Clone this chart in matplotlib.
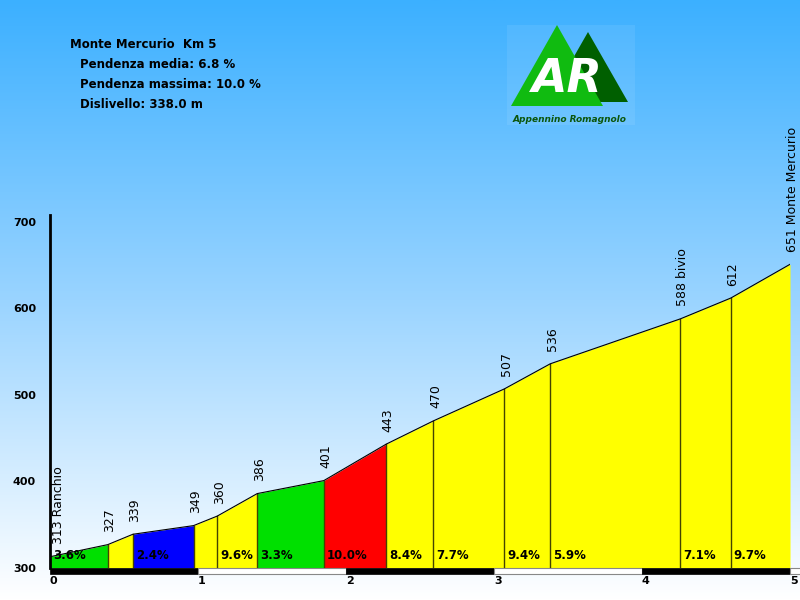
import numpy as np
import matplotlib
matplotlib.use("Agg")
import matplotlib.pyplot as plt
from matplotlib.colors import LinearSegmentedColormap
from matplotlib.patches import Polygon, Rectangle

# profile data
km = [0, 0.39, 0.56, 0.97, 1.13, 1.40, 1.85, 2.27, 2.59, 3.07, 3.38, 4.26, 4.60, 5.0]
elev = [313, 327, 339, 349, 360, 386, 401, 443, 470, 507, 536, 588, 612, 651]
names = ["Ranchio", "", "", "", "", "", "", "", "", "", "", "bivio", "", "Monte Mercurio"]
grades = ["3.6%", "", "2.4%", "", "9.6%", "3.3%", "10.0%", "8.4%", "7.7%", "9.4%", "5.9%", "7.1%", "9.7%"]
segcolors = ["#00e000", "#ffff00", "#0000ff", "#ffff00", "#ffff00", "#00e000", "#ff0000",
             "#ffff00", "#ffff00", "#ffff00", "#ffff00", "#ffff00", "#ffff00"]
yticks = [300, 400, 500, 600, 700]
xticks = [0, 1, 2, 3, 4, 5]
info = ["Monte Mercurio  Km 5", "Pendenza media: 6.8 %", "Pendenza massima: 10.0 %", "Dislivello: 338.0 m"]

fig = plt.figure(figsize=(8, 6), dpi=100)

# background + logo in pixel coords
bg = fig.add_axes([0, 0, 1, 1])
bg.set_xlim(0, 800)
bg.set_ylim(600, 0)
bg.axis("off")
cmap = LinearSegmentedColormap.from_list("sky", ["#3cb0ff", "#9ad4ff", "#ffffff"])
grad = np.linspace(0, 1, 256).reshape(-1, 1)
bg.imshow(grad, cmap=cmap, extent=[0, 800, 600, 0], aspect="auto")

bg.add_patch(Rectangle((507, 25), 128, 100, color="white", alpha=0.08, lw=0))
bg.add_patch(Polygon([(588, 32), (548, 102), (628, 102)], closed=True, color="#005f00", lw=0))
bg.add_patch(Polygon([(557, 25), (511, 106), (603, 106)], closed=True, color="#10bb10", lw=0))
bg.text(567, 79, "AR", color="white", fontsize=33, fontweight="bold", fontstyle="italic",
        ha="center", va="center")
bg.text(570, 119, "Appennino Romagnolo", color="#0b560b", fontsize=6.5, fontweight="bold",
        fontstyle="italic", ha="center", va="center")

bg.text(70, 45, info[0], fontsize=8.5, fontweight="bold", va="center")
for i, line in enumerate(info[1:]):
    bg.text(80, 65 + 20 * i, line, fontsize=8.5, fontweight="bold", va="center")

# main profile axes
ax = fig.add_axes([50 / 800, 32 / 600, 740 / 800, 398 / 600])
ax.patch.set_alpha(0)
ax.set_xlim(0, 5)
ax.set_ylim(300, 760)

for i in range(len(km) - 1):
    ax.fill_between([km[i], km[i + 1]], [elev[i], elev[i + 1]], 300, color=segcolors[i], lw=0)
    if grades[i]:
        ax.text(km[i] + 0.02, 315, grades[i], fontsize=8.5, fontweight="bold", va="center", ha="left")
for i in range(1, len(km) - 1):
    ax.plot([km[i], km[i]], [300, elev[i]], color="#444400", lw=1)
ax.plot(km, elev, color="black", lw=0.8)

for i in range(len(km)):
    lbl = str(elev[i]) + (" " + names[i] if names[i] else "")
    dx = 6 if i == 0 else 1.5
    ax.annotate(lbl, (km[i], elev[i]), xytext=(dx, 9), textcoords="offset points",
                rotation=90, ha="center", va="bottom", fontsize=9, annotation_clip=False)

# km band under the axis
for k in range(5):
    if k % 2 == 0:
        ax.add_patch(Rectangle((k, 293), 1, 7, facecolor="black", edgecolor="black", lw=0.5, clip_on=False))
    else:
        ax.add_patch(Rectangle((k, 293.5), 1, 6, facecolor="white", edgecolor="#888888", lw=0.8, clip_on=False))
ax.add_patch(Rectangle((5, 293.5), 0.1, 6, facecolor="white", edgecolor="#888888", lw=0.8, clip_on=False))
for k in xticks:
    ax.text(k, 291, str(k), fontsize=8, fontweight="bold", ha="left", va="top")

ax.set_xticks([])
ax.set_yticks(yticks)
ax.set_yticklabels([str(v) for v in yticks], fontsize=8, fontweight="bold")
ax.tick_params(axis="y", length=0, pad=10)
for s in ["top", "right", "bottom"]:
    ax.spines[s].set_visible(False)
ax.spines["left"].set_bounds(300, 708)
ax.spines["left"].set_linewidth(2)

plt.savefig("out.png", dpi=100)
